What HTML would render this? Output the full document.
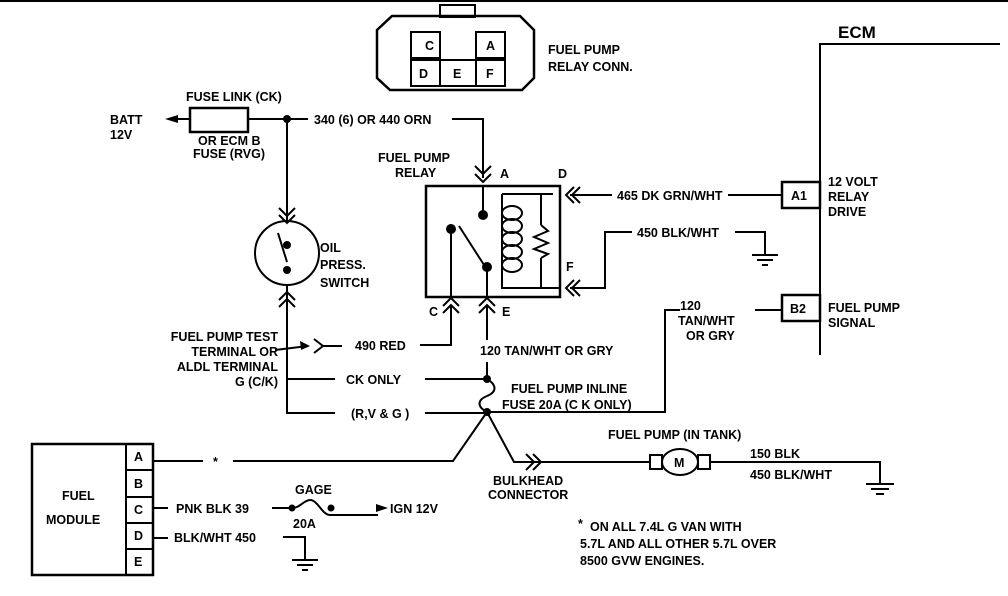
<!DOCTYPE html>
<html><head><meta charset="utf-8"><style>
html,body{margin:0;padding:0;background:#fff;}
svg{display:block;}
text{font-family:"Liberation Sans",sans-serif;font-weight:bold;font-size:12.5px;fill:#000;}
</style></head><body>
<svg width="1008" height="596" viewBox="0 0 1008 596" xmlns="http://www.w3.org/2000/svg">
<g fill="none" stroke="#000" stroke-width="2">
<line x1="0" y1="1" x2="1008" y2="1"/>
<path d="M392 16 H520 L534 30 V78 L522 90 H390 L377 78 V30 Z" stroke-width="2.5"/>
<rect x="440" y="5" width="35" height="12"/>
<rect x="411" y="32" width="29" height="26"/><rect x="476" y="32" width="29" height="26"/>
<rect x="411" y="60" width="29" height="26"/><rect x="440" y="60" width="36" height="26"/><rect x="476" y="60" width="29" height="26"/>
<path d="M1000 44 H820 V355"/>
<rect x="782" y="182" width="38" height="26" stroke-width="2.5"/>
<rect x="782" y="295" width="38" height="26" stroke-width="2.5"/>
<line x1="172" y1="119" x2="190" y2="119"/>
<rect x="190" y="108" width="58" height="24" stroke-width="2.5"/>
<line x1="248" y1="119" x2="308" y2="119"/>
<path d="M452 119 H483 V178"/>
<path d="M475 166 L483 174 L491 166 M475 174 L483 182 L491 174"/>
<rect x="426" y="186" width="134" height="111" stroke-width="2.5"/>
<line x1="483" y1="186" x2="483" y2="215"/>
<path d="M451 230 V297"/>
<line x1="459" y1="226" x2="486" y2="268"/>
<path d="M487 268 V297"/>
<path d="M502 194 H553 M502 194 V288 H560 M541 194 V225 M541 258 V288"/>
<path d="M541 225 L548 231 L534 237 L548 243 L534 249 L548 254 L541 258"/>
<g><ellipse cx="512" cy="213" rx="10" ry="7"/><ellipse cx="512" cy="226" rx="10" ry="7"/><ellipse cx="512" cy="239" rx="10" ry="7"/><ellipse cx="512" cy="252" rx="10" ry="7"/><ellipse cx="512" cy="265" rx="10" ry="7"/></g>
<path d="M574 187 L566 195 L574 203 M580 187 L572 195 L580 203"/>
<line x1="570" y1="195" x2="612" y2="195"/><line x1="728" y1="195" x2="782" y2="195"/>
<path d="M574 280 L566 288 L574 296 M580 280 L572 288 L580 296"/>
<path d="M570 288 H605 V232 H632"/><path d="M735 232 H765 V255"/>
<line x1="752" y1="255" x2="778" y2="255"/><line x1="757" y1="260" x2="773" y2="260"/><line x1="762" y1="265" x2="768" y2="265"/>
<path d="M443 306 L451 298 L459 306 M443 313 L451 305 L459 313"/>
<path d="M451 306 V345 H420"/>
<path d="M479 306 L487 298 L495 306 M479 313 L487 305 L495 313"/>
<path d="M487 306 V340"/><path d="M487 362 V379"/>
<path d="M487 379 C497 385 497 392 487 396 C477 400 477 407 487 412"/>
<line x1="287" y1="119" x2="287" y2="220"/>
<path d="M279 208 L287 216 L295 208 M279 215 L287 223 L295 215"/>
<circle cx="287" cy="253" r="32"/>
<line x1="278" y1="233" x2="287" y2="262"/>
<path d="M279 300 L287 292 L295 300 M279 307 L287 299 L295 307"/>
<path d="M287 285 V413 H335"/><line x1="287" y1="379" x2="335" y2="379"/>
<line x1="425" y1="379" x2="487" y2="379"/><line x1="425" y1="413" x2="487" y2="413"/>
<line x1="275" y1="350" x2="308" y2="346"/>
<path d="M314 339 L323 346 L314 353"/>
<line x1="323" y1="346" x2="342" y2="346"/>
<path d="M782 310 H755"/><path d="M680 310 H665 V412 H487"/>
<path d="M487 412 L453 461 H233"/><line x1="203" y1="461" x2="153" y2="461"/>
<path d="M487 412 L514 462 H650"/>
<path d="M526 454 L534 462 L526 470 M533 454 L541 462 L533 470"/>
<rect x="650" y="455" width="12" height="14"/><rect x="698" y="455" width="12" height="14"/>
<ellipse cx="680" cy="462" rx="18" ry="13"/>
<path d="M710 462 H880 V484"/>
<line x1="866" y1="484" x2="894" y2="484"/><line x1="871" y1="489" x2="889" y2="489"/><line x1="876" y1="494" x2="884" y2="494"/>
<rect x="32" y="444" width="121" height="131" stroke-width="2.5"/>
<line x1="126" y1="444" x2="126" y2="575"/>
<line x1="126" y1="470" x2="153" y2="470"/><line x1="126" y1="497" x2="153" y2="497"/>
<line x1="126" y1="523" x2="153" y2="523"/><line x1="126" y1="549" x2="153" y2="549"/>
<line x1="153" y1="508" x2="168" y2="508"/><line x1="153" y1="538" x2="168" y2="538"/>
<path d="M272 508 H292 C300 508 304 500 310 500 C318 500 322 515 330 515 H378"/>
<path d="M283 537 H305 V560"/>
<line x1="292" y1="560" x2="318" y2="560"/><line x1="297" y1="565" x2="313" y2="565"/><line x1="302" y1="570" x2="308" y2="570"/>
</g>
<g fill="#000">
<circle cx="287" cy="119" r="4"/>
<path d="M165 119 L178 115 L178 123 Z"/>
<circle cx="483" cy="215" r="5"/><circle cx="451" cy="229" r="5"/><circle cx="487" cy="267" r="5"/>
<circle cx="287" cy="245" r="4"/><circle cx="287" cy="270" r="4"/>
<circle cx="487" cy="379" r="4"/><circle cx="487" cy="412" r="4"/>
<path d="M310 346 L300 341 L301 350 Z"/>
<circle cx="292" cy="508" r="3.5"/><circle cx="331" cy="508" r="3.5"/>
<path d="M388 508 L376 504 L376 512 Z"/>
</g>
<text x="425" y="50">C</text><text x="486" y="50">A</text>
<text x="419" y="78">D</text><text x="453" y="78">E</text><text x="486" y="78">F</text>
<text x="548" y="54">FUEL PUMP</text><text x="548" y="71">RELAY CONN.</text>
<text x="838" y="38" style="font-size:17px">ECM</text>
<text x="791" y="200">A1</text><text x="790" y="313">B2</text>
<text x="828" y="186">12 VOLT</text><text x="828" y="201">RELAY</text><text x="828" y="216">DRIVE</text>
<text x="828" y="312">FUEL PUMP</text><text x="828" y="327">SIGNAL</text>
<text x="186" y="101">FUSE LINK (CK)</text>
<text x="110" y="124">BATT</text><text x="110" y="139">12V</text>
<text x="198" y="145">OR ECM B</text><text x="193" y="158">FUSE (RVG)</text>
<text x="314" y="124">340 (6) OR 440 ORN</text>
<text x="378" y="162">FUEL PUMP</text><text x="395" y="177">RELAY</text>
<text x="500" y="178">A</text><text x="558" y="178">D</text>
<text x="566" y="271">F</text>
<text x="617" y="200">465 DK GRN/WHT</text>
<text x="637" y="237">450 BLK/WHT</text>
<text x="320" y="252">OIL</text><text x="320" y="269">PRESS.</text><text x="320" y="287">SWITCH</text>
<text x="429" y="316">C</text><text x="502" y="316">E</text>
<text x="355" y="350">490 RED</text>
<text x="480" y="355">120 TAN/WHT OR GRY</text>
<text x="278" y="341" text-anchor="end">FUEL PUMP TEST</text>
<text x="278" y="356" text-anchor="end">TERMINAL OR</text>
<text x="278" y="371" text-anchor="end">ALDL TERMINAL</text>
<text x="278" y="386" text-anchor="end">G (C/K)</text>
<text x="346" y="384">CK ONLY</text><text x="351" y="418">(R,V &amp; G )</text>
<text x="511" y="393">FUEL PUMP INLINE</text><text x="502" y="409">FUSE 20A (C K ONLY)</text>
<text x="680" y="310">120</text><text x="678" y="325">TAN/WHT</text><text x="686" y="340">OR GRY</text>
<text x="608" y="439">FUEL PUMP (IN TANK)</text>
<text x="674" y="467">M</text>
<text x="750" y="458">150 BLK</text><text x="750" y="479">450 BLK/WHT</text>
<text x="493" y="485">BULKHEAD</text><text x="488" y="499">CONNECTOR</text>
<text x="134" y="461">A</text><text x="134" y="488">B</text><text x="134" y="514">C</text><text x="134" y="540">D</text><text x="134" y="566">E</text>
<text x="62" y="500">FUEL</text><text x="46" y="524">MODULE</text>
<text x="213" y="466">*</text>
<text x="176" y="513">PNK BLK 39</text><text x="174" y="542">BLK/WHT 450</text>
<text x="295" y="494">GAGE</text><text x="293" y="528">20A</text>
<text x="390" y="513">IGN 12V</text>
<text x="578" y="528">*</text>
<text x="590" y="531">ON ALL 7.4L G VAN WITH</text>
<text x="580" y="548">5.7L AND ALL OTHER 5.7L OVER</text>
<text x="580" y="565">8500 GVW ENGINES.</text>
</svg>
</body></html>
